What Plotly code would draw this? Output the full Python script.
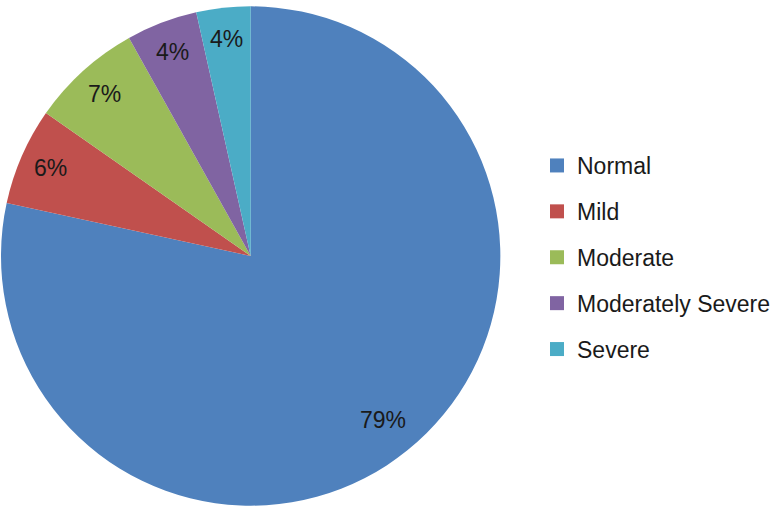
import math
import plotly.graph_objects as go

categories = ["Normal", "Mild", "Moderate", "Moderately Severe", "Severe"]
values = [78.4, 6.3, 7.2, 4.6, 3.5]
label_text = ["79%", "6%", "7%", "4%", "4%"]
colors = ["#4F81BD", "#C0504D", "#9BBB59", "#8064A2", "#4BACC6"]

W, H = 776, 512
dom_x = [1 / W, 501 / W]
dom_y = [6 / H, 506 / H]

fig = go.Figure()
fig.add_trace(go.Pie(
    labels=categories, values=values, sort=False, direction="clockwise",
    rotation=0, marker=dict(colors=colors, line=dict(width=0)),
    textinfo="none", showlegend=False, hoverinfo="label+percent",
    domain=dict(x=dom_x, y=dom_y),
))

# legend entries (one group each so spacing can be set)
for c, col in zip(categories, colors):
    fig.add_trace(go.Scatter(
        x=[None], y=[None], mode="markers", name=c, legendgroup=c,
        marker=dict(symbol="square", size=14, color=col),
    ))

# data labels placed along the slice mid-angles
cx = (dom_x[0] + dom_x[1]) / 2 * W
cy = (dom_y[0] + dom_y[1]) / 2 * H
R = min((dom_x[1] - dom_x[0]) * W, (dom_y[1] - dom_y[0]) * H) / 2
total = sum(values)
cum = 0.0
annos = []
for v, t in zip(values, label_text):
    mid = (cum + v / 2) / total * 2 * math.pi
    cum += v
    r = 0.845 * R if v / total > 0.5 else 0.875 * R
    px = cx + r * math.sin(mid)
    py = cy + r * math.cos(mid)
    annos.append(dict(x=px / W, y=py / H, xref="paper", yref="paper",
                      xanchor="center", yanchor="middle",
                      text=t, showarrow=False,
                      font=dict(size=23, color="#1a1a1a")))

fig.update_layout(
    width=W, height=H,
    margin=dict(l=0, r=0, t=0, b=0),
    paper_bgcolor="white", plot_bgcolor="white",
    font=dict(family="Liberation Sans, Arial, sans-serif", size=22, color="#1a1a1a"),
    xaxis=dict(visible=False, domain=[0.99, 1]),
    yaxis=dict(visible=False, domain=[0.99, 1]),
    legend=dict(x=538 / W, y=(H - 144) / H, xanchor="left", yanchor="top",
                traceorder="grouped", tracegroupgap=13,
                font=dict(size=23, color="#1a1a1a"), bgcolor="rgba(0,0,0,0)"),
    annotations=annos,
)

fig.write_html("out.html", config={"displayModeBar": False},
               post_script="document.body.style.margin='0';")
